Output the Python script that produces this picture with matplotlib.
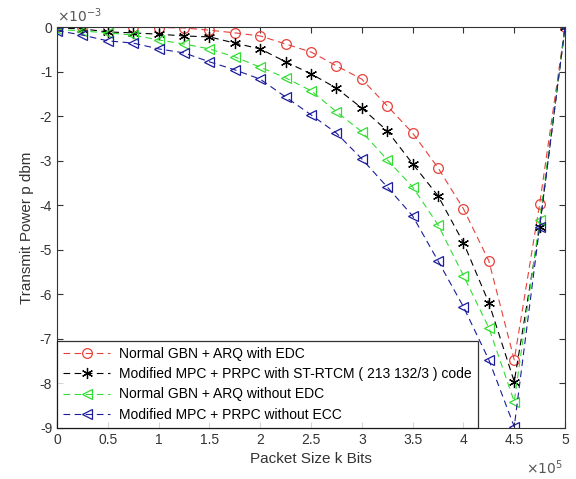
import matplotlib
matplotlib.use("Agg")
import matplotlib.pyplot as plt
from matplotlib.ticker import FuncFormatter
import numpy as np

plt.rcParams['font.family'] = ['Liberation Sans', 'DejaVu Sans']

packet_size = [0, 25000, 50000, 75000, 100000, 125000, 150000, 175000, 200000, 225000,
               250000, 275000, 300000, 325000, 350000, 375000, 400000, 425000, 450000,
               475000, 500000]

# transmit power in units of 1e-3
gbn_edc = [0.0, 0.0, 0.0, 0.0, -0.01, -0.02, -0.07, -0.13, -0.20, -0.38, -0.56, -0.87,
           -1.17, -1.77, -2.38, -3.16, -4.08, -5.25, -7.47, -3.97, 0.0]
mpc_strtcm = [-0.02, -0.04, -0.11, -0.13, -0.16, -0.20, -0.22, -0.36, -0.49, -0.78, -1.05,
              -1.37, -1.82, -2.33, -3.07, -3.79, -4.84, -6.19, -7.96, -4.48, 0.0]
gbn_noedc = [-0.05, -0.09, -0.13, -0.18, -0.29, -0.38, -0.49, -0.67, -0.90, -1.14, -1.43,
             -1.90, -2.35, -2.98, -3.59, -4.44, -5.58, -6.75, -8.41, -4.33, 0.0]
mpc_noecc = [-0.08, -0.18, -0.31, -0.36, -0.49, -0.58, -0.78, -0.96, -1.17, -1.57, -1.97,
             -2.38, -2.96, -3.59, -4.24, -5.25, -6.28, -7.47, -8.97, -4.48, 0.0]

labels = ["Normal GBN + ARQ with EDC",
          "Modified MPC + PRPC with ST-RTCM ( 213 132/3 ) code",
          "Normal GBN + ARQ without EDC",
          "Modified MPC + PRPC without ECC"]

fig = plt.figure(figsize=(5.76, 4.79), dpi=100)
ax = fig.add_axes([0.099, 0.1065, 0.882, 0.837])

x = np.array(packet_size, dtype=float)
series = [(gbn_edc, '#e8403a', 'o', 7), (mpc_strtcm, 'black', (6, 2, 0), 8),
          (gbn_noedc, '#33dd33', '<', 7), (mpc_noecc, '#1c1c9a', '<', 7)]
for (vals, col, mk, ms), lab in zip(series, labels):
    ax.plot(x, np.array(vals) * 1e-3, linestyle=(0, (6, 4)), color=col, marker=mk,
            markersize=ms, markerfacecolor='none',
            markeredgecolor=col, linewidth=0.8, markeredgewidth=0.9, label=lab)

ax.set_xlim(0, 500000)
ax.set_ylim(-9e-3, 0)
ax.set_xticks(np.arange(0, 500001, 50000))
ax.set_yticks(np.arange(-9, 0.5, 1) * 1e-3)
ax.xaxis.set_major_formatter(FuncFormatter(lambda v, p: '%g' % round(v / 1e5, 6)))
ax.yaxis.set_major_formatter(FuncFormatter(lambda v, p: '%g' % round(v / 1e-3, 6)))
ax.tick_params(direction='in', length=4, labelsize=10, colors='#333333', top=True, right=True)
for s in ax.spines.values():
    s.set_color('#333333')
    s.set_linewidth(0.8)

ax.text(0.996, -0.075, r'$\times10^{5}$', transform=ax.transAxes, fontsize=10,
        color='#555555', ha='right', va='top')
ax.text(0.0, 1.005, r'$\times10^{-3}$', transform=ax.transAxes, fontsize=10,
        color='#555555', ha='left', va='bottom')

ax.set_xlabel("Packet Size k Bits", fontsize=11, color='#333333')
ax.set_ylabel("Transmit Power p dbm", fontsize=11, color='#333333')

leg = ax.legend(loc='lower left', fontsize=10, frameon=True, fancybox=False,
                edgecolor='black', borderpad=0.45, labelspacing=0.45, handlelength=3.4,
                handletextpad=0.6, borderaxespad=0.0)
leg.get_frame().set_linewidth(0.9)

fig.savefig("out.png", dpi=100)
